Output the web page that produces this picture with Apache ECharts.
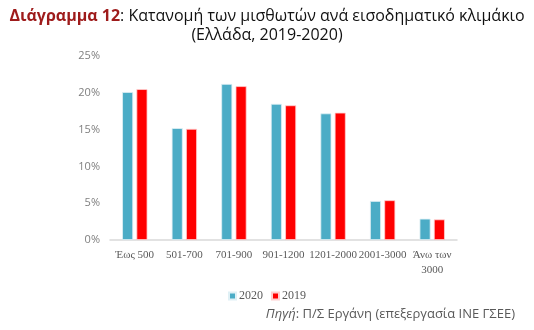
<!DOCTYPE html>
<html><head><meta charset="utf-8">
<script src="https://cdn.jsdelivr.net/npm/echarts@6/dist/echarts.min.js"></script>
<style>html,body{margin:0;padding:0;background:#fff}#c{width:534px;height:330px}</style>
</head><body><div id="c"></div>
<script>
const categories = ['Έως 500','501-700','701-900','901-1200','1201-2000','2001-3000','Άνω των\n3000'];
const values2020 = [20.1, 15.2, 21.2, 18.5, 17.2, 5.3, 2.9];
const values2019 = [20.5, 15.1, 20.9, 18.3, 17.3, 5.4, 2.8];
const yTicks = [0, 5, 10, 15, 20, 25];

const chart = echarts.init(document.getElementById('c'));
chart.setOption({
  animation: false,
  title: [{
    text: '{b|Διάγραμμα 12}{n|: Κατανομή των μισθωτών ανά εισοδηματικό κλιμάκιο}',
    left: 'center', top: 3,
    textStyle: {
      rich: {
        b: {fontFamily: 'Open Sans', fontSize: 16, fontWeight: 'bold', color: '#9E1B1B'},
        n: {fontFamily: 'Open Sans', fontSize: 16, fontWeight: 'normal', color: '#111'}
      }
    }
  }, {
    text: '(Ελλάδα, 2019-2020)',
    left: 'center', top: 22,
    textStyle: {fontFamily: 'Open Sans', fontSize: 16, fontWeight: 'normal', color: '#111'}
  }, {
    text: '{i|Πηγή}{n|: Π/Σ Εργάνη (επεξεργασία ΙΝΕ ΓΣΕΕ)}',
    right: 14, top: 303,
    textStyle: {
      rich: {
        i: {fontFamily: 'Open Sans', fontSize: 13, fontStyle: 'italic', fontWeight: 'normal', color: '#595959'},
        n: {fontFamily: 'Open Sans', fontSize: 13, fontWeight: 'normal', color: '#595959'}
      }
    }
  }],
  legend: {
    data: ['2020', '2019'], top: 285, left: 'center',
    itemWidth: 7, itemHeight: 7, itemGap: 8, icon: 'rect',
    textStyle: {fontFamily: 'Liberation Serif', fontSize: 12, color: '#595959', padding: [0,0,0,-2]}
  },
  grid: {left: 110, right: 77, top: 56, bottom: 90},
  xAxis: {
    type: 'category', data: categories,
    axisLine: {lineStyle: {color: '#d9d9d9', width: 1.5}},
    axisTick: {show: false},
    axisLabel: {fontFamily: 'Liberation Serif', fontSize: 11, color: '#595959', margin: 8, interval: 0, lineHeight: 15}
  },
  yAxis: {
    type: 'value', min: 0, max: 25, interval: 5,
    splitLine: {show: false},
    axisLine: {show: false}, axisTick: {show: false},
    axisLabel: {formatter: v => yTicks.includes(v) ? v + '%' : '', fontFamily: 'Open Sans', fontSize: 11, color: '#7f7f7f', margin: 10}
  },
  series: [{
    name: '2020', type: 'bar', data: values2020, barWidth: 11, barGap: '30%',
    itemStyle: {color: '#4BACC6', borderColor: '#dff0f5', borderWidth: 0.8}
  }, {
    name: '2019', type: 'bar', data: values2019, barWidth: 11,
    itemStyle: {color: '#FF0000', borderColor: '#ffd0d0', borderWidth: 0.8}
  }]
});
</script></body></html>
